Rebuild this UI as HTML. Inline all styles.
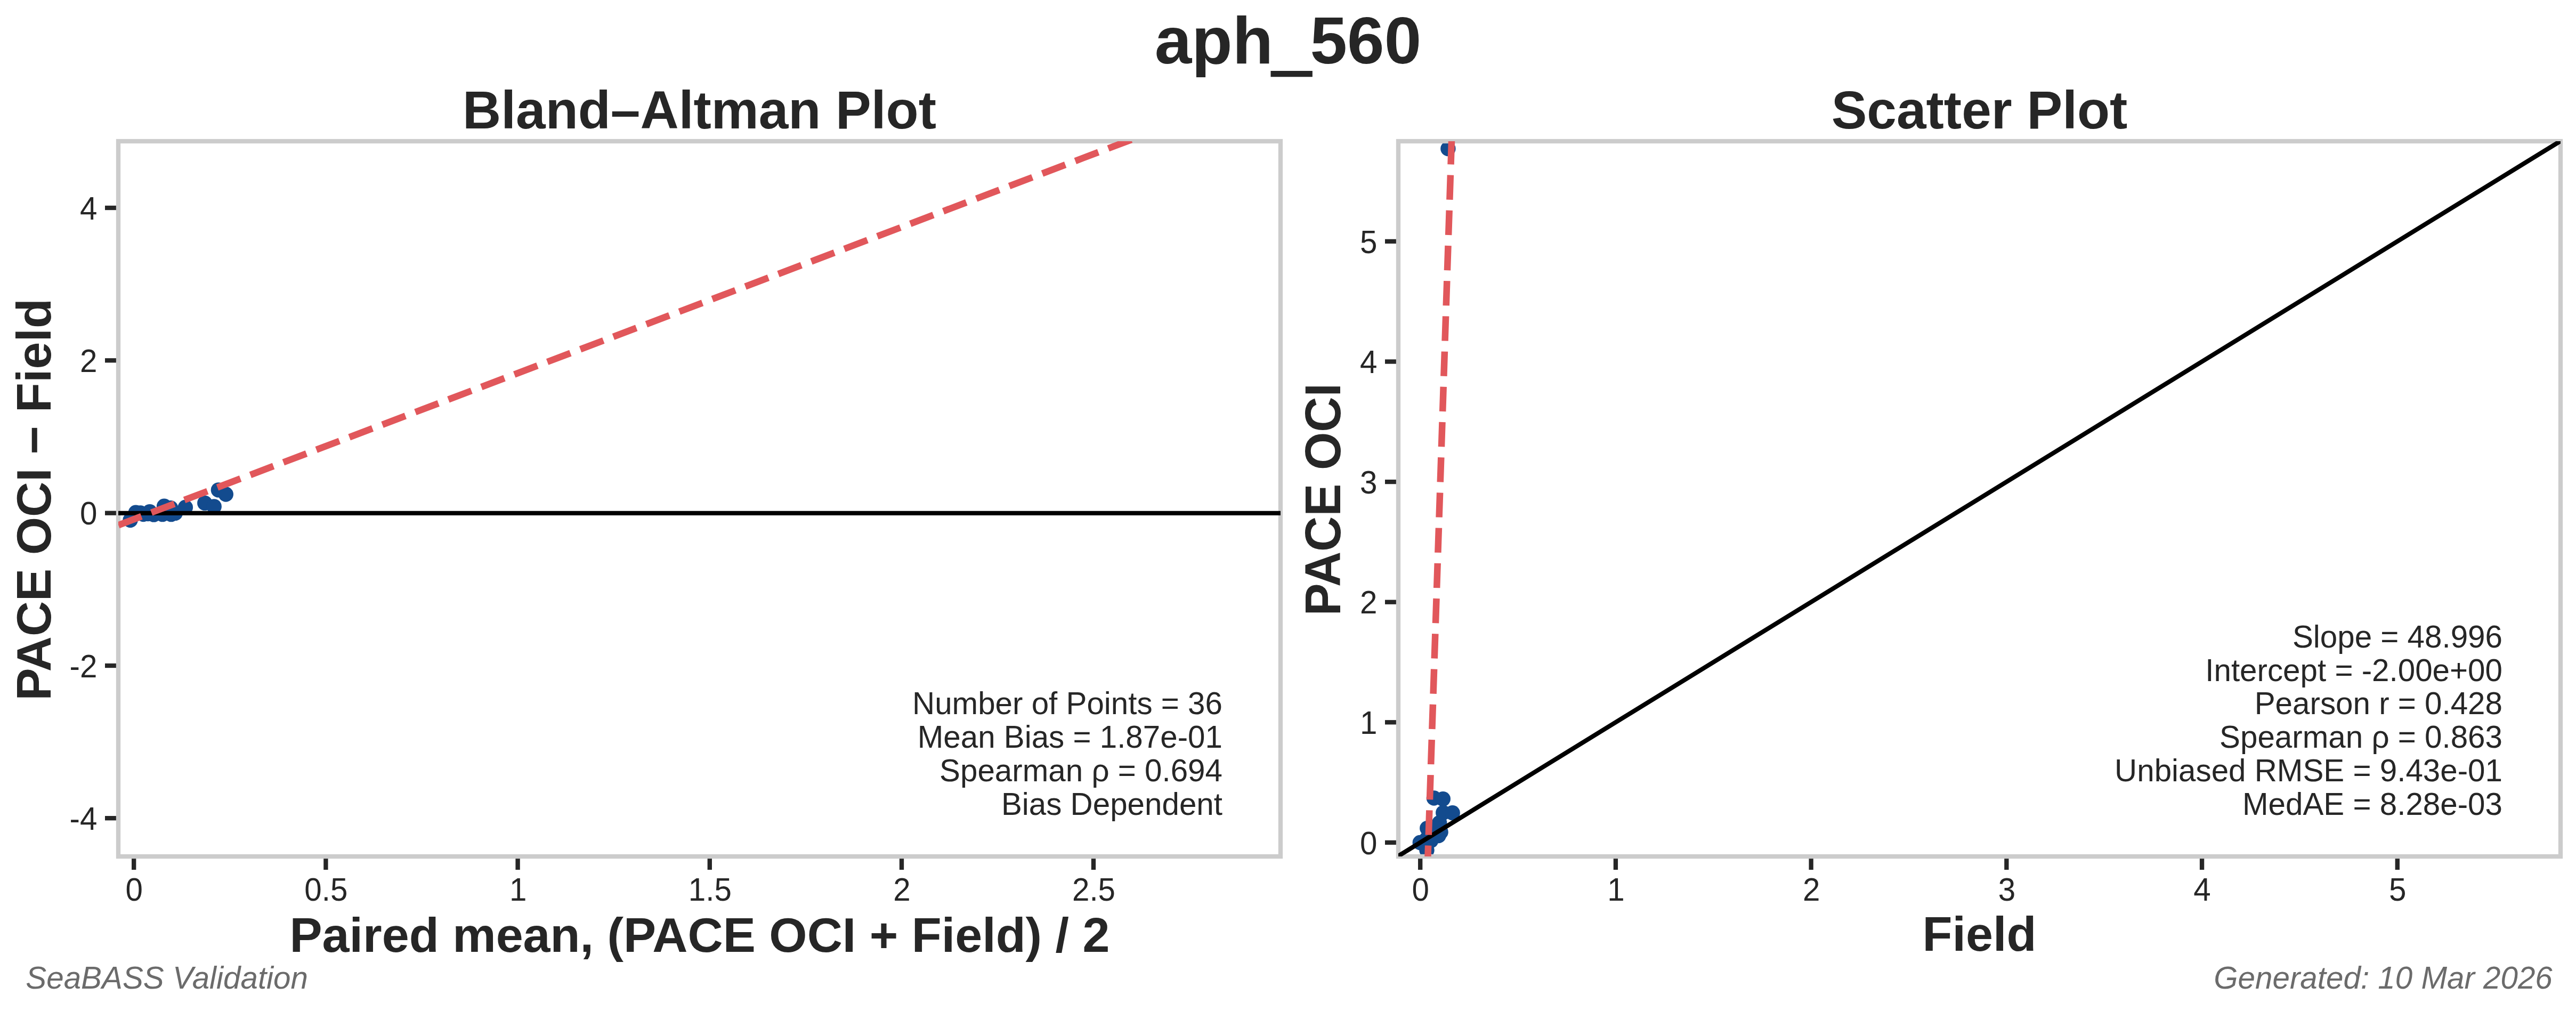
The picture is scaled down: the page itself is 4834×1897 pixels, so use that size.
<!DOCTYPE html>
<html lang="en"><head><meta charset="utf-8"><title>aph_560</title>
<style>
html,body{margin:0;padding:0;background:#fff;width:4834px;height:1897px;overflow:hidden}
svg{display:block}
text{font-family:"Liberation Sans",sans-serif;fill:#262626}
.b{font-weight:bold}
.tk{font-size:58.33px}
.st{font-size:58.33px;text-anchor:end}
.lab{font-size:91.67px;font-weight:bold;text-anchor:middle}
.ttl{font-size:100px;font-weight:bold;text-anchor:middle}
.ft{font-size:58.33px;font-style:italic;fill:#6b6b6b}
</style></head><body>
<svg width="4834" height="1897" viewBox="0 0 4834 1897">
<rect width="4834" height="1897" fill="#ffffff"/>
<defs>
<clipPath id="cl"><rect x="222" y="265" width="2181" height="1342"/></clipPath>
<clipPath id="cr"><rect x="2624" y="265" width="2181" height="1342"/></clipPath>
</defs>
<text x="2417" y="119" class="b" style="font-size:125px;text-anchor:middle">aph<tspan dy="6.5" stroke="#262626" stroke-width="6.5" stroke-linejoin="miter">_</tspan><tspan dy="-6.5">560</tspan></text>
<g clip-path="url(#cl)" fill="#134b8e">
<circle cx="244.5" cy="976" r="14.2"/>
<circle cx="254.8" cy="961.8" r="14.2"/>
<circle cx="263.5" cy="962.4" r="14.2"/>
<circle cx="281" cy="960.2" r="14.2"/>
<circle cx="308.1" cy="949.8" r="14.2"/>
<circle cx="320.1" cy="953.1" r="14.2"/>
<circle cx="288.6" cy="965.6" r="14.2"/>
<circle cx="304.9" cy="965.1" r="14.2"/>
<circle cx="321.2" cy="965.1" r="14.2"/>
<circle cx="328.8" cy="962.9" r="14.2"/>
<circle cx="347.9" cy="952" r="14.2"/>
<circle cx="384.3" cy="943.9" r="14.2"/>
<circle cx="401.7" cy="950.4" r="14.2"/>
<circle cx="409.9" cy="919.4" r="14.2"/>
<circle cx="423.8" cy="927.5" r="14.2"/>
<circle cx="269" cy="965" r="14.2"/>
<circle cx="277.7" cy="964" r="14.2"/>
</g>
<g stroke="#262626" stroke-width="8.33">
<line x1="251.2" y1="1607" x2="251.2" y2="1632"/>
<line x1="611.4" y1="1607" x2="611.4" y2="1632"/>
<line x1="971.6" y1="1607" x2="971.6" y2="1632"/>
<line x1="1331.8" y1="1607" x2="1331.8" y2="1632"/>
<line x1="1692" y1="1607" x2="1692" y2="1632"/>
<line x1="2052" y1="1607" x2="2052" y2="1632"/>
<line x1="197" y1="390" x2="222" y2="390"/>
<line x1="197" y1="676.3" x2="222" y2="676.3"/>
<line x1="197" y1="962.7" x2="222" y2="962.7"/>
<line x1="197" y1="1249" x2="222" y2="1249"/>
<line x1="197" y1="1535.2" x2="222" y2="1535.2"/>
</g>
<rect x="222" y="265" width="2181" height="1342" fill="none" stroke="#cccccc" stroke-width="8.33"/>
<g clip-path="url(#cl)">
<line x1="222" y1="962.9" x2="2403" y2="962.9" stroke="#000" stroke-width="8.33"/>
<line x1="222.2" y1="985.3" x2="2300" y2="194.697" stroke="#e1575b" stroke-width="12.5" stroke-dasharray="46.25 20"/>
</g>
<text transform="translate(251.7 1690.3) scale(1 1.04)" class="tk" text-anchor="middle">0</text>
<text transform="translate(611.9 1690.3) scale(1 1.04)" class="tk" text-anchor="middle">0.5</text>
<text transform="translate(972.1 1690.3) scale(1 1.04)" class="tk" text-anchor="middle">1</text>
<text transform="translate(1332.3 1690.3) scale(1 1.04)" class="tk" text-anchor="middle">1.5</text>
<text transform="translate(1692.5 1690.3) scale(1 1.04)" class="tk" text-anchor="middle">2</text>
<text transform="translate(2052.5 1690.3) scale(1 1.04)" class="tk" text-anchor="middle">2.5</text>
<text transform="translate(182.4 411.6) scale(1 1.04)" class="tk" text-anchor="end">4</text>
<text transform="translate(182.4 697.9) scale(1 1.04)" class="tk" text-anchor="end">2</text>
<text transform="translate(182.4 984.3) scale(1 1.04)" class="tk" text-anchor="end">0</text>
<text transform="translate(182.4 1270.6) scale(1 1.04)" class="tk" text-anchor="end">-2</text>
<text transform="translate(182.4 1556.8) scale(1 1.04)" class="tk" text-anchor="end">-4</text>
<text x="1312.5" y="241" class="ttl">Bland–Altman Plot</text>
<text x="1313" y="1786" class="lab">Paired mean, (PACE OCI + Field) / 2</text>
<text transform="translate(95 937.3) rotate(-90)" class="lab">PACE OCI − Field</text>
<text x="2294" y="1340.4" class="st">Number of Points = 36</text>
<text x="2294" y="1403.1" class="st">Mean Bias = 1.87e-01</text>
<text x="2294" y="1465.8" class="st">Spearman ρ = 0.694</text>
<text x="2294" y="1528.5" class="st">Bias Dependent</text>
<g clip-path="url(#cr)" fill="#134b8e">
<circle cx="2690.9" cy="1497.5" r="14.2"/>
<circle cx="2707.8" cy="1499.1" r="14.2"/>
<circle cx="2708.3" cy="1524.9" r="14.2"/>
<circle cx="2725.7" cy="1525.2" r="14.2"/>
<circle cx="2701.2" cy="1543.9" r="14.2"/>
<circle cx="2678.3" cy="1554.1" r="14.2"/>
<circle cx="2703.6" cy="1561.3" r="14.2"/>
<circle cx="2664.8" cy="1581" r="14.2"/>
<circle cx="2677.5" cy="1595.3" r="14.2"/>
<circle cx="2699.6" cy="1568" r="14.2"/>
<circle cx="2685.4" cy="1577.1" r="14.2"/>
<circle cx="2677.5" cy="1573.9" r="14.2"/>
<circle cx="2696.5" cy="1554.9" r="14.2"/>
<circle cx="2717.4" cy="279" r="14.2"/>
</g>
<g stroke="#262626" stroke-width="8.33">
<line x1="2665.2" y1="1607" x2="2665.2" y2="1632"/>
<line x1="3031.92" y1="1607" x2="3031.92" y2="1632"/>
<line x1="3398.64" y1="1607" x2="3398.64" y2="1632"/>
<line x1="3765.36" y1="1607" x2="3765.36" y2="1632"/>
<line x1="4132.08" y1="1607" x2="4132.08" y2="1632"/>
<line x1="4498.8" y1="1607" x2="4498.8" y2="1632"/>
<line x1="2599" y1="1580.9" x2="2624" y2="1580.9"/>
<line x1="2599" y1="1355.3" x2="2624" y2="1355.3"/>
<line x1="2599" y1="1129.7" x2="2624" y2="1129.7"/>
<line x1="2599" y1="904.1" x2="2624" y2="904.1"/>
<line x1="2599" y1="678.5" x2="2624" y2="678.5"/>
<line x1="2599" y1="452.9" x2="2624" y2="452.9"/>
</g>
<rect x="2624" y="265" width="2181" height="1342" fill="none" stroke="#cccccc" stroke-width="8.33"/>
<g clip-path="url(#cr)">
<line x1="2555.18" y1="1648.58" x2="4902.19" y2="204.74" stroke="#000" stroke-width="8.33"/>
<line x1="2678.61" y1="1632.8" x2="2726.15" y2="200" stroke="#e1575b" stroke-width="12.5" stroke-dasharray="46.25 20"/>
</g>
<text transform="translate(2665.7 1690.3) scale(1 1.04)" class="tk" text-anchor="middle">0</text>
<text transform="translate(3032.42 1690.3) scale(1 1.04)" class="tk" text-anchor="middle">1</text>
<text transform="translate(3399.14 1690.3) scale(1 1.04)" class="tk" text-anchor="middle">2</text>
<text transform="translate(3765.86 1690.3) scale(1 1.04)" class="tk" text-anchor="middle">3</text>
<text transform="translate(4132.58 1690.3) scale(1 1.04)" class="tk" text-anchor="middle">4</text>
<text transform="translate(4499.3 1690.3) scale(1 1.04)" class="tk" text-anchor="middle">5</text>
<text transform="translate(2584.4 1602.5) scale(1 1.04)" class="tk" text-anchor="end">0</text>
<text transform="translate(2584.4 1376.9) scale(1 1.04)" class="tk" text-anchor="end">1</text>
<text transform="translate(2584.4 1151.3) scale(1 1.04)" class="tk" text-anchor="end">2</text>
<text transform="translate(2584.4 925.7) scale(1 1.04)" class="tk" text-anchor="end">3</text>
<text transform="translate(2584.4 700.1) scale(1 1.04)" class="tk" text-anchor="end">4</text>
<text transform="translate(2584.4 474.5) scale(1 1.04)" class="tk" text-anchor="end">5</text>
<text x="3714.5" y="241" class="ttl">Scatter Plot</text>
<text x="3714.5" y="1784" class="lab">Field</text>
<text transform="translate(2515 937.3) rotate(-90) scale(1 1.04)" class="lab">PACE OCI</text>
<text x="4696" y="1215" class="st">Slope = 48.996</text>
<text x="4696" y="1277.7" class="st">Intercept = -2.00e+00</text>
<text x="4696" y="1340.4" class="st">Pearson r = 0.428</text>
<text x="4696" y="1403.1" class="st">Spearman ρ = 0.863</text>
<text x="4696" y="1465.8" class="st">Unbiased RMSE = 9.43e-01</text>
<text x="4696" y="1528.5" class="st">MedAE = 8.28e-03</text>
<text x="48.3" y="1855" class="ft">SeaBASS Validation</text>
<text x="4789.8" y="1855" class="ft" text-anchor="end">Generated: 10 Mar 2026</text>
</svg>
</body></html>
